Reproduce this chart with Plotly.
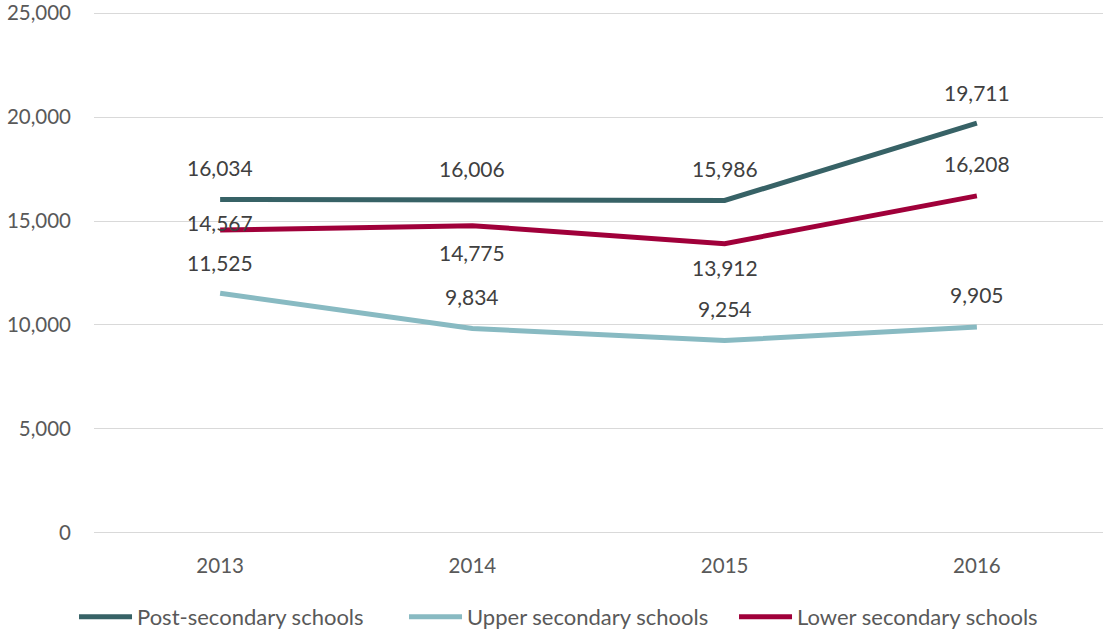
import plotly.graph_objects as go

years = ["2013", "2014", "2015", "2016"]
post_secondary = [16034, 16006, 15986, 19711]
upper_secondary = [11525, 9834, 9254, 9905]
lower_secondary = [14567, 14775, 13912, 16208]
series_names = ["Post-secondary schools", "Upper secondary schools", "Lower secondary schools"]
y_ticks = [0, 5000, 10000, 15000, 20000, 25000]

# styling (label pixel offsets, colours)
colors = ["#376266", "#88BAC2", "#A0003A"]
label_shift = [
    [32, 32, 32, 31],
    [31, 32, 32, 32],
    [8, -27, -24, 32],
]

FONT = "Lato"
fig = go.Figure()
all_series = [post_secondary, upper_secondary, lower_secondary]
for name, vals, col in zip(series_names, all_series, colors):
    fig.add_trace(go.Scatter(
        x=years, y=vals, name=name, mode="lines",
        line=dict(color=col, width=5),
        hoverinfo="skip",
    ))

for vals, shifts in zip(all_series, label_shift):
    for i, (v, s) in enumerate(zip(vals, shifts)):
        fig.add_annotation(
            x=i, y=v, xref="x", yref="y", text=f"{v:,}", showarrow=False, yshift=s,
            font=dict(family=FONT, size=21, color="#404040"),
            xanchor="center", yanchor="middle",
        )

fig.update_layout(
    width=1105, height=631,
    margin=dict(l=94, r=2, t=12, b=97, autoexpand=False),
    paper_bgcolor="white", plot_bgcolor="white",
    font=dict(family=FONT, size=20, color="#595959"),
    showlegend=True,
    legend=dict(
        orientation="h", x=-0.0198, xanchor="left", y=-0.159, yanchor="middle",
        font=dict(family=FONT, size=22, color="#595959"),
        itemwidth=53, tracegroupgap=0, entrywidth=262, entrywidthmode="pixels",
    ),
    xaxis=dict(
        type="category", range=[-0.5, 3.5], showgrid=False, showline=False,
        zeroline=False, ticks="", ticklabelstandoff=17, automargin=False,
        tickfont=dict(family=FONT, size=20.5, color="#595959"),
    ),
    yaxis=dict(
        range=[-50, 25050], tickvals=y_ticks, tickformat=",", showgrid=True,
        gridcolor="#D9D9D9", gridwidth=1.3, zeroline=False, showline=False,
        ticks="", ticklabelstandoff=22, automargin=False, ticklabeloverflow="allow",
        tickfont=dict(family=FONT, size=20.5, color="#595959"),
    ),
)

fig.write_html(
    "out.html",
    config={"displayModeBar": False},
    post_script="document.body.style.margin='0';",
)
